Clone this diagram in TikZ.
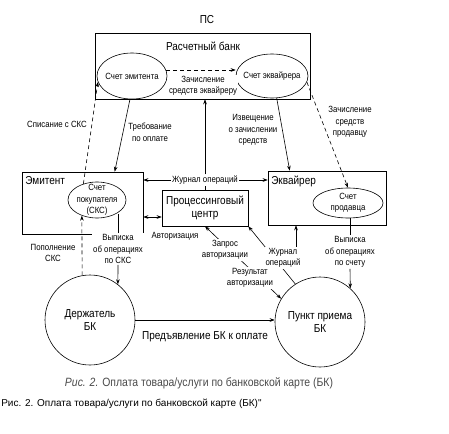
\documentclass[tikz,border=0pt]{standalone}
\usepackage{fontspec}
\setmainfont{Liberation Sans}[FakeStretch=0.87]
\newfontfamily\plainsans{Liberation Sans}
\usepackage{tikz}
\usetikzlibrary{arrows.meta,shapes.geometric}
\definecolor{captiongray}{HTML}{4A4A4A}
\tikzset{
  every node/.append style={font=\fontsize{9}{11.5}\selectfont, inner sep=1pt, align=center},
  bigtext/.style={font=\fontsize{11.5}{13.5}\selectfont},
  frame/.style={draw, inner sep=1pt},
  acct/.style={draw, ellipse, inner sep=0pt},
  party/.style={draw, circle, inner sep=0pt, minimum size=90pt, bigtext},
  lbl/.style={fill=white, inner sep=1pt},
  dashline/.style={dash pattern=on 4pt off 3pt}
}

\begin{document}
\begin{tikzpicture}[x=1pt,y=-1pt,>={Stealth[length=5pt,width=3.6pt]},line width=0.6pt]
  \useasboundingbox (0,0) rectangle (449,433);
  % settlement bank
  \node[bigtext] (ps) at (207,20) {ПС};
  \node[frame, minimum width=215pt, minimum height=66pt] (bank) at (202.5,66) {};
  \node[bigtext] (bankt) at (203,46) {Расчетный банк};
  \node[acct, minimum width=70pt, minimum height=46pt, label={center:Счет эмитента}] (schem) at (132,76) {};
  \node[acct, minimum width=72pt, minimum height=44pt, label={center:Счет эквайрера}] (scheq) at (272,76) {};
  % issuer, processing, acquirer
  \node[frame, minimum width=121pt, minimum height=62pt] (emitent) at (82.5,203) {};
  \node[bigtext, anchor=west] (emitentt) at (24,181) {Эмитент};
  \node[acct, minimum width=58pt, minimum height=36pt, label={center:Счет\\покупателя\\(СКС)}] (sks) at (97,200) {};
  \node[frame, bigtext, minimum width=86pt, minimum height=36pt] (pc) at (205,208) {Процессинговый\\центр};
  \node[frame, minimum width=118pt, minimum height=54pt] (acq) at (327,198) {};
  \node[bigtext, anchor=west] (acqt) at (270,181) {Эквайрер};
  \node[acct, minimum width=70pt, minimum height=30pt, label={center:Счет\\продавца}] (prod) at (348,203) {};
  % card holder and merchant
  \node[party] (holder) at (90,320) {Держатель\\БК};
  \node[party] (punkt) at (320,322) {Пункт приема\\БК};

  \node[lbl] (spis) at (57,124) {Списание с СКС};
  \node[lbl] (treb) at (150,132) {Требование\\по оплате};
  \node[lbl] (zach1) at (203,86) {Зачисление\\средств эквайреру};
  \node[lbl] (izv) at (253,130) {Извещение\\о зачислении\\средств};
  \node[lbl] (zach2) at (350,122) {Зачисление\\средств\\продавцу};
  \node[lbl] (zh1) at (205,180) {Журнал операций};
  \node[lbl] (avt) at (175,236) {Авторизация};
  \node[lbl] (vyp1) at (118,249) {Выписка\\об операциях\\по СКС};
  \node[lbl] (popol) at (53,253) {Пополнение\\СКС};
  \node[lbl] (vyp2) at (350,252) {Выписка\\об операциях\\по счету};
  \node[bigtext] (pred) at (205,337) {Предъявление БК к оплате};

  \draw[->, dashline] (sks.130) -- (schem.190);
  \draw[->] (schem.265) -- ([xshift=93pt]emitent.north west);
  \draw[->, dashline] (schem.10) -- (schem.10 -| scheq.west);
  \draw[->] (scheq.282) -- ([xshift=22pt]acq.north west);
  \draw[->, dashline] (scheq.350) -- (prod.north);
  \draw[->] (zh1.north) -- (zh1.north |- bank.south);
  \draw (pc.north) -- (zh1.south);
  \draw[->] (zh1.west) -- (zh1.west -| emitent.east);
  \draw[->] (zh1.east) -- (zh1.east -| acq.west);
  \draw[<->] ([yshift=-9pt]pc.west) -- ([yshift=-9pt]pc.west -| emitent.east);
  \draw (vyp1.north) -- (vyp1.north |- sks.325);
  \draw[->] (vyp1.south) -- (holder.52);
  \draw[->, dashline] (holder.100) -- (sks.226);
  \draw[->] (holder.east) -- (holder.east -| punkt.west);
  \draw (vyp2.north) -- (vyp2.north |- prod.south);
  \draw[->] (vyp2.south) -- (punkt.48);
  % lines running under their labels
  \draw[<->] (pc.south) -- (punkt.149);
  \draw[->] (punkt.123) -- (pc.south east);
  \node[lbl] (zapros) at (225,250) {Запрос\\авторизации};
  \node[lbl] (rez) at (250,278) {Результат\\авторизации};
  \node[lbl] (zh2) at (283,258) {Журнал\\операций};
  \draw[->] ([xshift=13pt]zh2.north) -- ([xshift=13pt]zh2.north |- acq.south);

  \node[font=\fontsize{12}{14}\selectfont, text=captiongray] (cap) at (199,383) {\textit{Рис. 2.} Оплата товара/услуги по банковской карте (БК)};
  \node[font=\plainsans\fontsize{10}{12}\selectfont, anchor=west] (cap2) at (0,404) {Рис. 2. Оплата товара/услуги по банковской карте (БК)"};
\end{tikzpicture}
\end{document}
